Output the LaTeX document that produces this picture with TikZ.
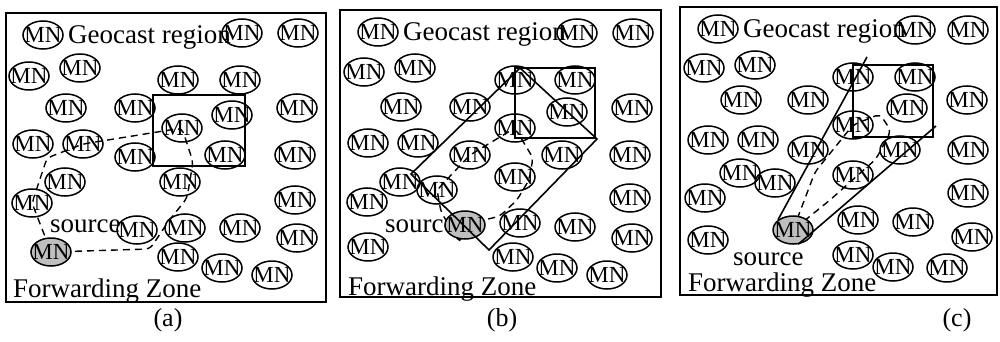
\documentclass[tikz,border=0pt]{standalone}
\usepackage{fontspec}
\setmainfont{Liberation Serif}
\usetikzlibrary{shapes.geometric,backgrounds}
\tikzset{
  mn/.style={ellipse, draw, line width=1.5pt, minimum width=40pt, minimum height=28pt,
             inner sep=0pt, font=\fontsize{23}{23}\selectfont},
  src/.style={mn, fill=black!25},
  panelframe/.style={line width=2pt},
  georegion/.style={line width=2pt},
  zoneline/.style={line width=1.6pt},
  route/.style={line width=1.4pt, dash pattern=on 7pt off 5pt, rounded corners=5pt},
  lbl/.style={inner sep=0pt, font=\fontsize{27}{27}\selectfont, anchor=base west},
  caption/.style={inner sep=0pt, font=\fontsize{26}{26}\selectfont, anchor=base},
}
\newcommand\mnode[3]{\node[mn] (#1) at (#2,#3) {\makebox[0pt]{MN}};}
\newcommand\srcnode[3]{\node[src] (#1) at (#2,#3) {\makebox[0pt]{MN}};}

\begin{document}
\begin{tikzpicture}[x=1pt,y=-1pt]
\useasboundingbox (0,0) rectangle (1000,342);

% ---------------- panel (a) ----------------
\draw[panelframe] (6,13) rectangle (326,302);
\node[lbl] (ageo) at (68,44) {Geocast region};
\node[lbl] (asrc) at (50,232) {source};
\node[lbl] (afz) at (13,297) {Forwarding Zone};
\node[caption] (capa) at (168,326) {(a)};
\mnode{a1}{43}{35}   \mnode{a2}{242}{33}  \mnode{a3}{298}{33}
\mnode{a4}{29}{76}   \mnode{a5}{80}{68}   \mnode{a6}{178}{80}  \mnode{a7}{240}{80}
\mnode{a8}{66}{108}  \mnode{a9}{135}{108} \mnode{a10}{232}{115} \mnode{a11}{297}{108}
\mnode{a12}{33}{144} \mnode{a13}{83}{144} \mnode{a14}{182}{128} \mnode{a15}{135}{157}
\mnode{a16}{225}{155} \mnode{a17}{295}{155}
\mnode{a18}{65}{182} \mnode{a19}{180}{182} \mnode{a20}{295}{200}
\mnode{a21}{32}{203}
\mnode{a22}{137}{230} \mnode{a23}{240}{228} \mnode{a24}{185}{228} \mnode{a25}{297}{238}
\mnode{a26}{178}{257} \mnode{a27}{222}{268} \mnode{a28}{272}{275}
\srcnode{as}{51}{252}
\draw[georegion] (153,95) rectangle (245,166);
\coordinate (ar1) at (150,249);
\coordinate (ar2) at (168,222);
\coordinate (ar3) at (187,198);
\coordinate (ar4) at (193,162);
\coordinate (ar5) at (47,158);
\begin{pgfonlayer}{background}
\draw[route] (as.center) -- (ar1) -- (ar2) -- (ar3) -- (ar4) -- (a14.center)
  -- (a13.center) -- (ar5) -- (a21.center) -- (as.center);
\end{pgfonlayer}

% ---------------- panel (b) ----------------
\draw[panelframe] (340,10) rectangle (661,297);
\node[lbl] (bgeo) at (403,41) {Geocast region};
\node[lbl] (bsrc) at (385,232) {source};
\node[lbl] (bfz) at (348,295) {Forwarding Zone};
\node[caption] (capb) at (502,326) {(b)};
\mnode{b1}{378}{32}  \mnode{b2}{577}{33}  \mnode{b3}{633}{33}
\mnode{b4}{364}{72}  \mnode{b5}{415}{68}  \mnode{b6}{515}{80}  \mnode{b7}{575}{80}
\mnode{b8}{401}{107} \mnode{b9}{470}{107} \mnode{b10}{567}{112} \mnode{b11}{632}{108}
\mnode{b12}{368}{143} \mnode{b13}{418}{143} \mnode{b14}{515}{128} \mnode{b15}{470}{155}
\mnode{b16}{562}{155} \mnode{b17}{630}{155}
\mnode{b18}{400}{182} \mnode{b19}{515}{177} \mnode{b20}{630}{198}
\mnode{b21}{367}{202} \mnode{b22}{437}{190}
\mnode{b23}{575}{227} \mnode{b24}{520}{223} \mnode{b25}{632}{238}
\mnode{b26}{513}{257} \mnode{b27}{557}{268} \mnode{b28}{607}{275}
\mnode{b29}{368}{247}
\srcnode{bs}{465}{225}
\draw[georegion] (515,68) rectangle (595,138);
\coordinate (bzt) at (520,68);
\coordinate (bzr) at (597,139);
\coordinate (bzb) at (489,250);
\coordinate (bzl) at (411,174);
\draw[zoneline] (bzt) -- (bzr) -- (bzb) -- (bzl) -- cycle;
\coordinate (br1) at (500,216);
\coordinate (br2) at (517,200);
\coordinate (br3) at (529,180);
\coordinate (br4) at (533,158);
\coordinate (br5) at (441,212);
\coordinate (br6) at (460,243);
\begin{pgfonlayer}{background}
\draw[route] (bs.center) -- (br1) -- (br2) -- (br3) -- (br4) -- (b14.center)
  -- (b15.center) -- (b22.center) -- (br5) -- (br6) -- (bs.center);
\end{pgfonlayer}

% ---------------- panel (c) ----------------
\draw[panelframe] (680,7) rectangle (997,295);
\node[lbl] (cgeo) at (743,38) {Geocast region};
\node[lbl] (csrc) at (733,265) {source};
\node[lbl] (cfz) at (688,291) {Forwarding Zone};
\node[caption] (capc) at (957,326) {(c)};
\mnode{c1}{718}{29}  \mnode{c2}{915}{30}  \mnode{c3}{968}{30}
\mnode{c4}{704}{68}  \mnode{c5}{755}{65}  \mnode{c6}{853}{77}  \mnode{c7}{915}{77}
\mnode{c8}{741}{100} \mnode{c9}{808}{100} \mnode{c10}{907}{108} \mnode{c11}{967}{100}
\mnode{c12}{708}{140} \mnode{c13}{758}{140} \mnode{c14}{853}{125} \mnode{c15}{808}{150}
\mnode{c16}{900}{150} \mnode{c17}{968}{150}
\mnode{c18}{740}{173} \mnode{c19}{853}{175} \mnode{c20}{968}{193}
\mnode{c21}{705}{198} \mnode{c22}{775}{183}
\mnode{c23}{913}{222} \mnode{c24}{858}{220} \mnode{c25}{972}{237}
\mnode{c26}{853}{255} \mnode{c27}{893}{267} \mnode{c28}{947}{268}
\mnode{c29}{708}{240}
\srcnode{cs}{793}{230}
\draw[georegion] (853,65) rectangle (933,137);
\coordinate (cz1) at (867,57);
\coordinate (cz2) at (936,126);
\draw[zoneline] (cs.146) -- (cz1);
\draw[zoneline] (cs.-70) -- (cz2);
\coordinate (cr1) at (815,172);
\coordinate (cr2) at (880,114);
\coordinate (cr3) at (891,131);
\coordinate (cr4) at (876,159);
\coordinate (cr5) at (830,200);
\begin{pgfonlayer}{background}
\draw[route] (cs.center) -- (cr1) -- (c14.center) -- (cr2) -- (cr3) -- (cr4)
  -- (cr5) -- (cs.center);
\end{pgfonlayer}
\end{tikzpicture}
\end{document}
